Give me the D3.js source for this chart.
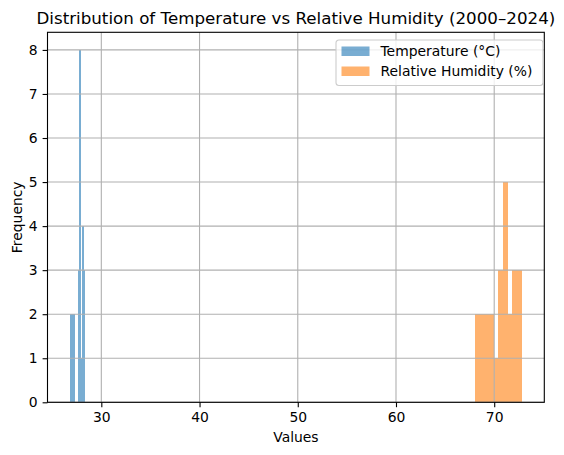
<!DOCTYPE html>
<html>
<head>
<meta charset="utf-8">
<script src="https://cdn.jsdelivr.net/npm/d3@7"></script>
<style>
  body { margin: 0; background: #fff; }
  text { font-family: "DejaVu Sans", sans-serif; fill: #000; }
</style>
</head>
<body>
<div id="chart"></div>
<script>
// histogram data (10 bins per series, 25 years each)
const tempRange = [26.82, 28.36];
const tempCounts = [2, 2, 2, 0, 0, 3, 8, 1, 4, 3];
const humRange = [68.05, 72.8];
const humCounts = [2, 2, 2, 2, 1, 3, 5, 2, 3, 3];
const yTicks = [0, 1, 2, 3, 4, 5, 6, 7, 8];
const xTicks = [30, 40, 50, 60, 70];
const seriesNames = ["Temperature (°C)", "Relative Humidity (%)"];
const seriesColors = ["#1f77b4", "#ff7f0e"];

const W = 564, H = 455;
const margin = {top: 32.3, right: W - 544.3, bottom: H - 402.3, left: 47.5};
const width = W - margin.left - margin.right,
      height = H - margin.top - margin.bottom;

// turn counts + range into bins
function makeBins(range, counts) {
    const step = (range[1] - range[0]) / counts.length;
    return counts.map((c, i) => ({x0: range[0] + i * step, x1: range[0] + (i + 1) * step, count: c}));
}
const series = [
    {name: seriesNames[0], color: seriesColors[0], bins: makeBins(tempRange, tempCounts)},
    {name: seriesNames[1], color: seriesColors[1], bins: makeBins(humRange, humCounts)}
];

const svg = d3.select("#chart").append("svg")
    .attr("width", W)
    .attr("height", H);

const g = svg.append("g")
    .attr("transform", `translate(${margin.left},${margin.top})`);

// 5% margins like matplotlib
const lo = tempRange[0], hi = humRange[1];
const pad = (hi - lo) * 0.05;
const x = d3.scaleLinear().domain([lo - pad, hi + pad]).range([0, width]);
const y = d3.scaleLinear().domain([0, 8 * 1.05]).range([height, 0]);

// bars
series.forEach(s => {
    g.append("g").selectAll("rect")
        .data(s.bins)
        .join("rect")
        .attr("x", d => x(d.x0))
        .attr("width", d => x(d.x1) - x(d.x0))
        .attr("y", d => y(d.count))
        .attr("height", d => y(0) - y(d.count))
        .attr("fill", s.color)
        .attr("fill-opacity", 0.6)
        .attr("shape-rendering", "crispEdges");
});

// grid (on top of bars)
const grid = g.append("g");
grid.selectAll(".gx").data(xTicks).join("line")
    .attr("x1", d => x(d)).attr("x2", d => x(d))
    .attr("y1", 0).attr("y2", height)
    .attr("stroke", "#b0b0b0").attr("stroke-width", 1.1);
grid.selectAll(".gy").data(yTicks).join("line")
    .attr("x1", 0).attr("x2", width)
    .attr("y1", d => y(d)).attr("y2", d => y(d))
    .attr("stroke", "#b0b0b0").attr("stroke-width", 1.1);

// axes
const xAxis = g.append("g")
    .attr("transform", `translate(0,${height})`)
    .call(d3.axisBottom(x).tickValues(xTicks).tickSize(4.9).tickPadding(4.9).tickSizeOuter(0));
const yAxis = g.append("g")
    .call(d3.axisLeft(y).tickValues(yTicks).tickSize(4.9).tickPadding(4.9).tickSizeOuter(0));
[xAxis, yAxis].forEach(a => {
    a.select(".domain").remove();
    a.selectAll("line").attr("stroke", "#000").attr("stroke-width", 1.1);
    a.selectAll("text").style("font-size", "13.9px").style("font-family", "DejaVu Sans").attr("fill", "#000");
});

// frame
g.append("rect")
    .attr("width", width).attr("height", height)
    .attr("fill", "none").attr("stroke", "#000").attr("stroke-width", 1.1);

// title and labels
svg.append("text")
    .attr("x", margin.left + width / 2)
    .attr("y", 24)
    .attr("text-anchor", "middle")
    .style("font-size", "16.7px")
    .text("Distribution of Temperature vs Relative Humidity (2000–2024)");

svg.append("text")
    .attr("x", margin.left + width / 2)
    .attr("y", 442)
    .attr("text-anchor", "middle")
    .style("font-size", "13.9px")
    .text("Values");

svg.append("text")
    .attr("transform", `translate(22,${margin.top + height / 2}) rotate(-90)`)
    .attr("text-anchor", "middle")
    .style("font-size", "13.9px")
    .text("Frequency");

// legend
const legend = svg.append("g").attr("transform", "translate(336,40)");
legend.append("rect")
    .attr("width", 207).attr("height", 45.5)
    .attr("rx", 3).attr("ry", 3)
    .attr("fill", "#fff").attr("fill-opacity", 0.8)
    .attr("stroke", "#cccccc").attr("stroke-width", 1.1);
series.forEach((s, i) => {
    const row = legend.append("g").attr("transform", `translate(0,${i * 20})`);
    row.append("rect")
        .attr("x", 5.5).attr("y", 6.5)
        .attr("width", 28).attr("height", 9.5)
        .attr("fill", s.color).attr("fill-opacity", 0.6);
    row.append("text")
        .attr("x", 44.5).attr("y", 16.2)
        .style("font-size", "13.9px")
        .text(s.name);
});
</script>
</body>
</html>
